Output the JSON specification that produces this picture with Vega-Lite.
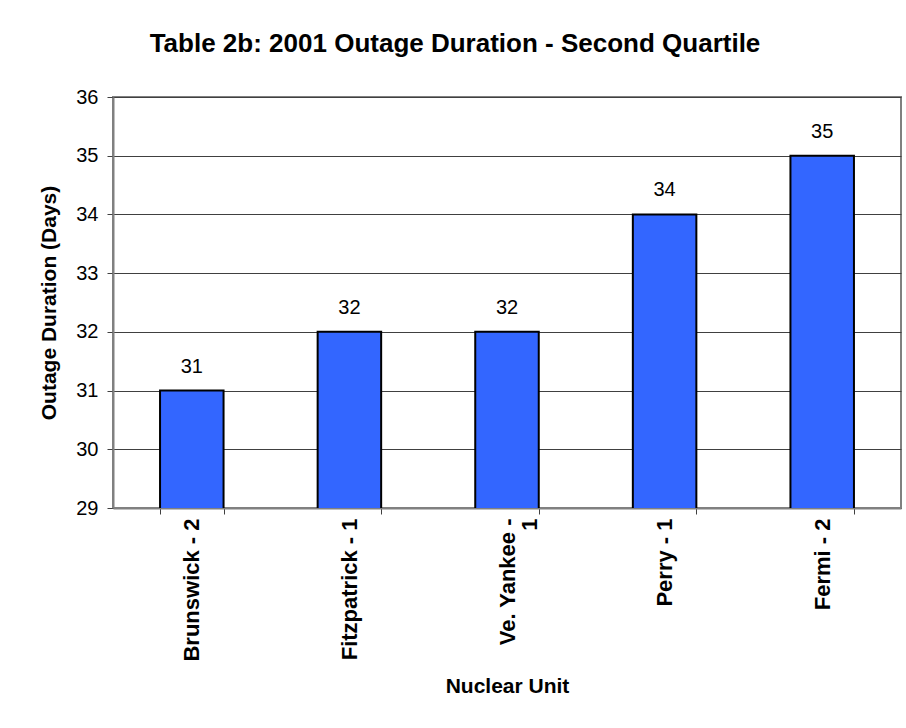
{
  "$schema": "https://vega.github.io/schema/vega-lite/v6.json",
  "autosize": "none",
  "width": 788,
  "height": 411,
  "padding": {"left": 113, "top": 97, "right": 5, "bottom": 220},
  "background": "white",
  "title": {
    "text": "Table 2b: 2001 Outage Duration - Second Quartile",
    "font": "Liberation Sans",
    "fontSize": 26,
    "fontWeight": "bold",
    "color": "black",
    "anchor": "middle",
    "offset": 30,
    "dx": -52
  },
  "data": {
    "values": [
      {"unit": "Brunswick - 2", "days": 31},
      {"unit": "Fitzpatrick - 1", "days": 32},
      {"unit": "Ve. Yankee - 1", "days": 32},
      {"unit": "Perry - 1", "days": 34},
      {"unit": "Fermi - 2", "days": 35}
    ]
  },
  "encoding": {
    "x": {
      "field": "unit",
      "type": "nominal",
      "sort": null,
      "scale": {"paddingInner": 0.597, "paddingOuter": 0.2985},
      "axis": {
        "title": "Nuclear Unit",
        "titleFont": "Liberation Sans",
        "titleFontSize": 21,
        "titleFontWeight": "bold",
        "titleColor": "black",
        "titlePadding": 14,
        "labelAngle": -90,
        "labelAlign": "right",
        "labelBaseline": "middle",
        "labelFont": "Liberation Sans",
        "labelFontSize": 22,
        "labelFontWeight": "bold",
        "labelColor": "black",
        "labelPadding": 4,
        "labelLineHeight": 22,
        "labelExpr": "datum.label == 'Ve. Yankee - 1' ? ['Ve. Yankee -', '1'] : datum.label",
        "tickBand": "extent",
        "tickSize": 6,
        "tickColor": "#404040",
        "domainColor": "#808080",
        "domainWidth": 2
      }
    },
    "y": {
      "field": "days",
      "type": "quantitative",
      "scale": {"domain": [29, 36], "zero": false, "nice": false},
      "axis": {
        "title": "Outage Duration (Days)",
        "titleFont": "Liberation Sans",
        "titleFontSize": 21,
        "titleFontWeight": "bold",
        "titleColor": "black",
        "titlePadding": 16,
        "values": [29, 30, 31, 32, 33, 34, 35, 36],
        "labelFont": "Liberation Sans",
        "labelFontSize": 20,
        "labelColor": "black",
        "labelPadding": 9,
        "tickSize": 6,
        "tickColor": "#404040",
        "domainColor": "#808080",
        "domainWidth": 2,
        "grid": true,
        "gridColor": "#404040",
        "gridWidth": 1
      }
    }
  },
  "layer": [
    {
      "mark": {"type": "bar", "fill": "#3366FF", "stroke": "black", "strokeWidth": 2, "clip": true}
    },
    {
      "mark": {"type": "text", "baseline": "middle", "dy": -24, "font": "Liberation Sans", "fontSize": 20, "color": "black"},
      "encoding": {"text": {"field": "days", "type": "quantitative"}}
    }
  ],
  "config": {
    "view": {"stroke": "#808080", "strokeWidth": 2}
  }
}
